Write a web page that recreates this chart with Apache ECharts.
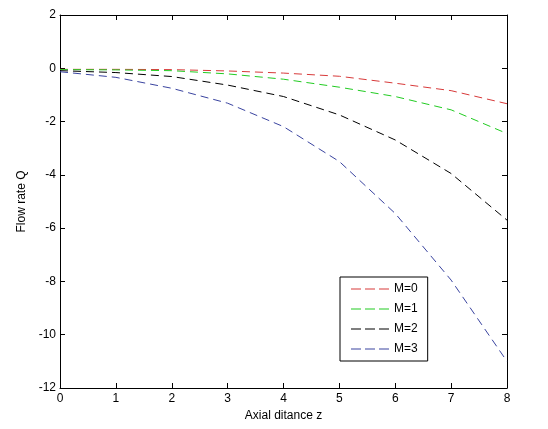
<!DOCTYPE html>
<html>
<head>
<meta charset="utf-8">
<script src="https://cdn.jsdelivr.net/npm/echarts@6/dist/echarts.min.js"></script>
<style>
  html, body { margin: 0; padding: 0; background: #fff; }
  #chart { width: 548px; height: 429px; }
</style>
</head>
<body>
<div id="chart"></div>
<script>
// Axial distance samples and flow rate for each M
const zValues = [0, 1, 2, 3, 4, 5, 6, 7, 8];
const seriesNames = ['M=0', 'M=1', 'M=2', 'M=3'];
const qM0 = [-0.04, -0.04, -0.05, -0.10, -0.18, -0.30, -0.56, -0.84, -1.33];
const qM1 = [-0.05, -0.06, -0.09, -0.21, -0.41, -0.71, -1.06, -1.56, -2.45];
const qM2 = [-0.09, -0.16, -0.31, -0.63, -1.06, -1.75, -2.69, -3.95, -5.70];
const qM3 = [-0.13, -0.34, -0.75, -1.31, -2.19, -3.50, -5.45, -7.95, -11.0];
const xTicks = [0, 1, 2, 3, 4, 5, 6, 7, 8];
const yTicks = [-12, -10, -8, -6, -4, -2, 0, 2];

const seriesValues = [qM0, qM1, qM2, qM3];
const colors = ['#d83a3a', '#22cc22', '#000000', '#3a44a0'];

const font = '"Liberation Sans", Arial, sans-serif';

// dashed legend sample: three short dashes
const dashIcon = 'path://M0,0h10v1h-10z M14,0h10v1h-10z M28,0h10v1h-10z';

const chart = echarts.init(document.getElementById('chart'), null, { renderer: 'canvas' });

const tickStyle = { show: true, inside: true, length: 5, lineStyle: { color: '#000', width: 1 } };
const lineStyleAxis = { show: true, onZero: false, lineStyle: { color: '#000', width: 1 } };

chart.setOption({
  backgroundColor: '#fff',
  animation: false,
  grid: { left: 60, right: 41, top: 15, bottom: 41, show: false },
  legend: {
    show: true,
    orient: 'vertical',
    left: 340,
    top: 277,
    backgroundColor: '#fff',
    borderColor: '#000',
    borderWidth: 1,
    borderRadius: 0,
    padding: [6, 10, 6, 11],
    itemWidth: 38,
    itemHeight: 10,
    itemGap: 8,
    icon: dashIcon,
    textStyle: { fontFamily: font, fontSize: 12, color: '#000' },
    data: seriesNames
  },
  xAxis: [
    {
      type: 'value',
      min: xTicks[0],
      max: xTicks[xTicks.length - 1],
      interval: 1,
      position: 'bottom',
      name: 'Axial ditance z',
      nameLocation: 'middle',
      nameGap: 21,
      nameTextStyle: { fontFamily: font, fontSize: 12, color: '#000' },
      axisLine: lineStyleAxis,
      axisTick: tickStyle,
      splitLine: { show: false },
      axisLabel: { fontFamily: font, fontSize: 12, color: '#000', margin: 5 }
    },
    {
      type: 'value',
      min: xTicks[0],
      max: xTicks[xTicks.length - 1],
      interval: 1,
      position: 'top',
      axisLine: lineStyleAxis,
      axisTick: tickStyle,
      splitLine: { show: false },
      axisLabel: { show: false }
    }
  ],
  yAxis: [
    {
      type: 'value',
      min: yTicks[0],
      max: yTicks[yTicks.length - 1],
      interval: 2,
      position: 'left',
      name: 'Flow rate Q',
      nameLocation: 'middle',
      nameGap: 32,
      nameTextStyle: { fontFamily: font, fontSize: 12, color: '#000' },
      axisLine: lineStyleAxis,
      axisTick: tickStyle,
      splitLine: { show: false },
      axisLabel: { fontFamily: font, fontSize: 12, color: '#000', margin: 4 }
    },
    {
      type: 'value',
      min: yTicks[0],
      max: yTicks[yTicks.length - 1],
      interval: 2,
      position: 'right',
      axisLine: lineStyleAxis,
      axisTick: tickStyle,
      splitLine: { show: false },
      axisLabel: { show: false }
    }
  ],
  series: seriesNames.map((name, i) => ({
    name: name,
    type: 'line',
    xAxisIndex: 0,
    yAxisIndex: 0,
    symbol: 'none',
    itemStyle: { color: colors[i] },
    lineStyle: { color: colors[i], width: 1, type: [8, 5] },
    data: zValues.map((z, k) => [z, seriesValues[i][k]])
  }))
});
</script>
</body>
</html>
